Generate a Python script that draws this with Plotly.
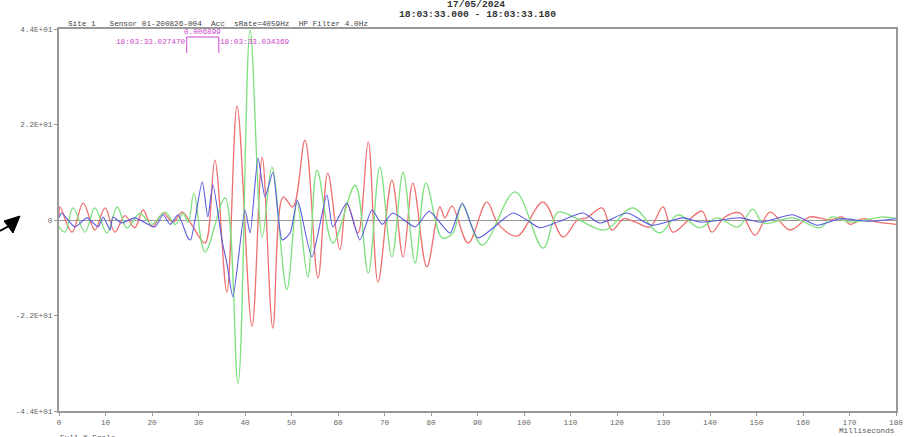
import plotly.graph_objects as go

# ---- data (time in ms, acceleration values) ----
red_ms = [0, 0.2, 2.8, 5.2, 7.7, 9.9, 12.0, 14.2, 16.3, 18.1, 20.0, 22.4, 24.5, 26.5, 28.5,
          31.4, 33.5, 36.1, 38.3, 41.5, 43.7, 46.0, 48.2, 50.3, 52.9, 55.7, 57.8, 60.4, 61.9,
          64.3, 66.5, 68.6, 71.6, 74.0, 76.1, 79.1, 81.9, 83.0, 84.5, 88.0, 92.0, 94.5, 98.5,
          104.1, 108.4, 111.5, 113.5, 116.8, 118.9, 121.5, 124.0, 127.1, 129.9, 132.0, 135.2,
          138.3, 140.4, 143.2, 146.5, 149.7, 152.9, 157.2, 161.5, 165.8, 168.4, 170.1, 173.0,
          176.0, 180.0]
red_val = [1.0, 3.0, -2.8, 3.9, -2.3, 2.8, -2.8, 1.0, -1.8, 2.3, -1.6, 1.6, -0.5, 1.8, -1.0,
           -5.3, 13.8, -16.6, 26.3, -24.5, 14.5, -24.9, 5.3, 3.0, 18.4, -13.4, 10.8, -6.9, 3.9,
           -3.0, 18.0, -14.3, 9.2, -8.5, 8.5, -10.8, 3.0, 0.5, 3.2, -5.3, 4.1, -1.0, -3.7,
           4.1, -3.9, 0.0, 0.5, 2.8, -2.3, 0.3, -0.5, -1.6, 3.0, -2.8, -0.2,
           2.0, -2.8, 0.7, 1.6, -3.5, 1.8, -2.3, 0.7, 0.0, 0.7, -1.0, 0.3,
           -0.5, -1.0]

green_ms = [0, 1.3, 3.0, 5.6, 7.7, 10.3, 12.5, 14.6, 17.4, 20.0, 22.8, 25.0, 26.7, 27.8, 29.0,
            31.4, 35.7, 38.5, 41.1, 43.7, 45.8, 49.0, 51.2, 53.5, 55.5, 58.9, 63.7, 66.5, 69.0,
            71.6, 74.0, 76.6, 78.9, 82.4, 84.7, 86.7, 91.0, 98.1, 104.1, 107.3, 111.0, 117.4,
            123.4, 129.2, 133.1, 137.8, 141.5, 146.0, 149.2, 151.4, 157.8, 163.7, 166.2, 170.1,
            177.2, 180.0]
green_val = [-1.5, -2.8, 2.8, -2.8, 2.8, -3.0, 3.0, -1.8, 1.5, -1.0, 1.8, -1.0, 1.5, -0.5, 6.2,
             -7.4, 5.1, -37.6, 43.8, -4.0, 12.2, -16.1, 4.0, -13.1, 11.5, -5.3, 8.0, -12.2, 12.2,
             -8.5, 11.0, -9.9, 8.5, -4.1, -3.0, 3.5, -5.8, 6.5, -6.5, 1.8, 0.5, -2.3,
             2.8, -3.0, 1.2, -1.8, 0.5, -1.6, 2.5, -0.7, 0.5, -1.8, 0.7, -0.5,
             0.7, 0.3]

blue_ms = [0, 0.6, 3.4, 6.0, 8.4, 9.5, 11.0, 11.6, 13.5, 16.3, 20.6, 22.4, 23.9, 25.6, 27.7,
           28.3, 30.8, 32.0, 33.1, 35.1, 36.1, 37.4, 40.0, 41.1, 42.8, 44.3, 46.0, 48.0, 49.7,
           51.2, 51.8, 54.4, 57.6, 58.9, 61.9, 64.7, 67.3, 69.5, 71.8, 76.6, 79.6, 84.1, 86.7,
           90.1, 97.6, 100.6, 103.4, 107.7, 112.7, 116.3, 122.2, 127.5, 134.2, 138.0, 146.5,
           151.0, 157.8, 163.0, 168.0, 174.0, 180.0]
blue_val = [0.5, 1.6, -1.6, 0.5, -1.6, 0.7, -2.3, 0.7, -0.7, 0.5, -1.6, 1.2, -1.0, 1.2, -4.1,
            -4.6, 8.8, 0.7, 8.1, -5.0, -10.0, -17.7, 2.3, -3.0, 14.3, 5.3, 11.0, -4.6, -3.0,
            4.6, 3.0, -8.5, 5.8, -1.6, 3.9, -4.6, 2.3, -1.0, 1.6, -1.6, 2.0, -3.0, 3.9,
            -4.1, 1.6, 0.0, -1.8, -0.3, 1.6, -0.7, 1.6, -1.2, 0.5, -0.5, 0.5,
            -0.5, 1.2, -1.2, 0.3, -0.3, 0.3]

x_ticks = list(range(0, 181, 10))
y_ticks = [-44, -22, 0, 22, 44]
y_tick_text = ["-4.4E+01", "-2.2E+01", "0", "2.2E+01", "4.4E+01"]

cursor_a = 27.470
cursor_b = 34.369

header = "Site 1   Sensor 01-200826-004  Acc  sRate=4059Hz  HP Filter 4.0Hz"
date_txt = "17/05/2024"
range_txt = "18:03:33.000 - 18:03:33.180"

MONO = "Liberation Mono, Courier New, monospace"
FS = 7.7

# plot-area geometry in pixels (for paper-coordinate placement of decorations)
L, R, T, B = 59, 896, 29, 411
W, H = R - L, B - T


def px(x):
    return (x - L) / W


def py(y):
    return (B - y) / H


fig = go.Figure()
fig.add_trace(go.Scatter(x=red_ms, y=red_val, mode="lines",
                         line=dict(color="#ee7070", width=1.3, shape="spline", smoothing=1.0)))
fig.add_trace(go.Scatter(x=green_ms, y=green_val, mode="lines",
                         line=dict(color="#7ee07e", width=1.3, shape="spline", smoothing=1.0)))
fig.add_trace(go.Scatter(x=blue_ms, y=blue_val, mode="lines",
                         line=dict(color="#5a5ae0", width=1.1, shape="spline", smoothing=0.6)))

fig.update_layout(
    width=907, height=437,
    margin=dict(l=L, r=907 - R, t=T, b=437 - B),
    paper_bgcolor="white", plot_bgcolor="white",
    showlegend=False,
    font=dict(family=MONO, size=FS, color="#555"),
)
fig.update_xaxes(range=[0, 180], tickvals=x_ticks, ticks="outside", ticklen=3, automargin=False,
                 tickcolor="#999", showline=True, linecolor="#999", linewidth=2, mirror=True,
                 showgrid=False, zeroline=False, tickfont=dict(family=MONO, size=FS, color="#666"))
fig.update_yaxes(range=[-44, 44], tickvals=y_ticks, ticktext=y_tick_text, ticks="outside",
                 ticklen=3, tickcolor="#999", showline=True, linecolor="#999", linewidth=2,
                 mirror=True, showgrid=False, zeroline=True, zerolinecolor="#999", automargin=False,
                 zerolinewidth=1, tickfont=dict(family=MONO, size=FS, color="#666"))

# cursor bracket
mag = "#cc44cc"
for cx in (cursor_a, cursor_b):
    fig.add_shape(type="line", xref="x", yref="paper", x0=cx, x1=cx, y0=py(53), y1=py(37),
                  line=dict(color=mag, width=1))
fig.add_shape(type="line", xref="x", yref="paper", x0=cursor_a, x1=cursor_b, y0=py(37), y1=py(37),
              line=dict(color=mag, width=1))
fig.add_annotation(x=(cursor_a + cursor_b) / 2, y=py(32), xref="x", yref="paper",
                   text=f"{(cursor_b - cursor_a) / 1000:.6f}", showarrow=False, yanchor="middle",
                   font=dict(family=MONO, size=FS, color=mag))
fig.add_annotation(x=cursor_a, y=py(42), xref="x", yref="paper", text="18:03:33.027470",
                   showarrow=False, xanchor="right", yanchor="middle", xshift=1,
                   font=dict(family=MONO, size=FS, color=mag))
fig.add_annotation(x=cursor_b, y=py(42), xref="x", yref="paper", text="18:03:33.034369",
                   showarrow=False, xanchor="left", yanchor="middle", xshift=-1,
                   font=dict(family=MONO, size=FS, color=mag))

# header texts
fig.add_annotation(x=px(66), y=py(24), xref="paper", yref="paper", text=header,
                   showarrow=False, xanchor="left", yanchor="middle",
                   font=dict(family=MONO, size=FS, color="#444"))
fig.add_annotation(x=px(476), y=py(5), xref="paper", yref="paper",
                   text="<b>" + date_txt + "</b>", showarrow=False, yanchor="middle",
                   font=dict(family=MONO, size=9.7, color="#333"))
fig.add_annotation(x=px(477), y=py(15), xref="paper", yref="paper",
                   text="<b>" + range_txt + "</b>", showarrow=False, yanchor="middle",
                   font=dict(family=MONO, size=9.7, color="#333"))

fig.add_annotation(x=px(896), y=py(431), xref="paper", yref="paper", text="Milliseconds",
                   showarrow=False, xanchor="right", yanchor="middle",
                   font=dict(family=MONO, size=FS, color="#555"))
fig.add_annotation(x=px(58), y=py(432), xref="paper", yref="paper", text="Full X Scale",
                   showarrow=False, xanchor="left", yanchor="top",
                   font=dict(family=MONO, size=FS, color="#555"))

# black pointer arrow on the left
fig.add_shape(type="path", xref="paper", yref="paper",
              path=f"M {px(4)},{py(221)} L {px(20)},{py(216)} L {px(13)},{py(233)} Z",
              fillcolor="black", line=dict(color="black", width=1))
fig.add_shape(type="line", xref="paper", yref="paper", x0=px(0), y0=py(231), x1=px(9), y1=py(226),
              line=dict(color="black", width=2))

fig.write_html("out.html", config={"displayModeBar": False},
               post_script="document.body.style.margin='0';")
